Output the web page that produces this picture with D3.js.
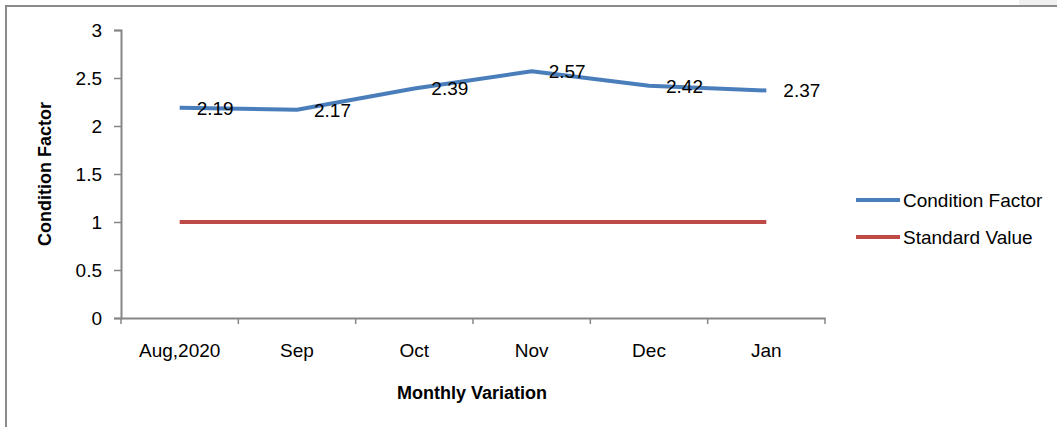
<!DOCTYPE html>
<html>
<head>
<meta charset="utf-8">
<script src="https://cdn.jsdelivr.net/npm/d3@7"></script>
<style>
  body { margin: 0; background: #fff; }
  svg { display: block; font-family: "Liberation Sans", Arial, sans-serif; }
</style>
</head>
<body>
<svg width="1057" height="427"></svg>
<script>
const months = ['Aug,2020', 'Sep', 'Oct', 'Nov', 'Dec', 'Jan'];
const conditionFactor = [2.19, 2.17, 2.39, 2.57, 2.42, 2.37];
const standardValue = [1, 1, 1, 1, 1, 1];
const yTicks = [0, 0.5, 1, 1.5, 2, 2.5, 3];
const seriesNames = ['Condition Factor', 'Standard Value'];
const seriesColors = ['#4a7ebb', '#be4b48'];

const svg = d3.select('svg');

// outer chart frame (runs off the right and bottom edges)
svg.append('rect')
  .attr('x', 1019).attr('y', 0).attr('width', 40).attr('height', 6)
  .attr('fill', '#f0f0f0');
svg.append('rect')
  .attr('x', 6).attr('y', 6).attr('width', 1100).attr('height', 500)
  .attr('fill', 'none').attr('stroke', '#8a8a8a').attr('stroke-width', 2);

const x = d3.scaleBand().domain(months).range([121, 825]);
const y = d3.scaleLinear().domain([0, 3]).range([318, 30]);
const cx = d => x(d) + x.bandwidth() / 2;

// y axis
const yAxis = svg.append('g')
  .attr('transform', 'translate(121,0)')
  .call(d3.axisLeft(y).tickValues(yTicks).tickFormat(d3.format('')).tickSize(7).tickPadding(12));
yAxis.select('.domain').attr('stroke', '#868686').attr('stroke-width', 2);
yAxis.selectAll('.tick line').attr('stroke', '#868686').attr('stroke-width', 1.5);
yAxis.selectAll('text').attr('font-size', 19).attr('fill', '#000')
  .attr('font-family', '"Liberation Sans", Arial, sans-serif');

// x axis: labels centred in bands, ticks on band edges
const xAxis = svg.append('g')
  .attr('transform', 'translate(0,318)')
  .call(d3.axisBottom(x).tickSize(0).tickPadding(26));
xAxis.select('.domain').attr('stroke', '#868686').attr('stroke-width', 2);
xAxis.selectAll('text').attr('font-size', 19).attr('fill', '#000')
  .attr('font-family', '"Liberation Sans", Arial, sans-serif');
const edges = months.map(m => x(m)).concat([x.range()[1]]);
svg.append('g').selectAll('line').data(edges).enter().append('line')
  .attr('x1', d => d).attr('x2', d => d)
  .attr('y1', 318).attr('y2', 324)
  .attr('stroke', '#868686').attr('stroke-width', 1.5);

// axis titles
svg.append('text')
  .attr('transform', 'translate(51,174) rotate(-90)')
  .attr('text-anchor', 'middle')
  .attr('font-size', 18).attr('font-weight', 'bold')
  .text('Condition Factor');
svg.append('text')
  .attr('x', 472).attr('y', 399)
  .attr('text-anchor', 'middle')
  .attr('font-size', 18).attr('font-weight', 'bold')
  .text('Monthly Variation');

// lines
const line = d3.line().x((d, i) => cx(months[i])).y(d => y(d));
[conditionFactor, standardValue].forEach((vals, k) => {
  svg.append('path')
    .datum(vals)
    .attr('d', line)
    .attr('fill', 'none')
    .attr('stroke', seriesColors[k])
    .attr('stroke-width', 4)
    .attr('stroke-linejoin', 'round');
});

// data labels to the right of each point
svg.append('g').selectAll('text')
  .data(conditionFactor).enter().append('text')
  .attr('x', (d, i) => cx(months[i]) + 17)
  .attr('y', d => y(d))
  .attr('dy', '0.36em')
  .attr('font-size', 19)
  .text(d => d.toFixed(2));

// legend
const legend = svg.append('g');
seriesNames.forEach((name, k) => {
  const ly = 200 + k * 37;
  legend.append('line')
    .attr('x1', 856).attr('x2', 900).attr('y1', ly).attr('y2', ly)
    .attr('stroke', seriesColors[k]).attr('stroke-width', 4);
  legend.append('text')
    .attr('x', 903).attr('y', ly).attr('dy', '0.36em')
    .attr('font-size', 19)
    .text(name);
});
</script>
</body>
</html>
